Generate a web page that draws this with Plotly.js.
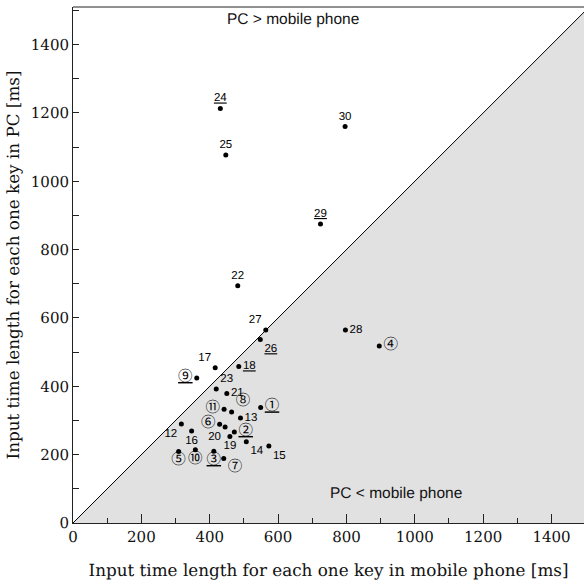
<!DOCTYPE html>
<html>
<head>
<meta charset="utf-8">
<script src="https://cdn.plot.ly/plotly-3.0.1.min.js"></script>
<style>html,body{margin:0;padding:0;background:#fff;}#chart{width:584px;height:585px;}
svg text{text-rendering:geometricPrecision;-webkit-font-smoothing:antialiased;}</style>
</head>
<body>
<div id="chart"></div>
<script>
// Point ids (labels) and their values [ms]
var pointLabels = ["①","②","③","④","⑤","⑥","⑦","⑧","⑨","⑩","⑪",
  "12","13","14","15","16","17","18","19","20","21","22","23","24","25","26","27","28","29","30"];
var mobileMs = [549,472,412,896,309,429,441,464,362,358,442,
  317,490,507,573,347,416,485,459,445,450,482,419,431,447,548,564,797,724,796];
var pcMs = [338,266,210,518,209,289,189,325,424,214,333,
  290,307,238,225,269,454,458,253,281,379,694,392,1213,1077,537,565,565,875,1160];
var underlined = [true,true,true,false,false,false,false,false,true,false,false,
  false,false,false,false,false,false,true,false,false,false,false,false,true,false,true,false,false,true,false];
var labelPos = ["middle right","middle right","bottom center","middle right","bottom center","middle left","bottom right","top right","middle left","bottom center","middle left",
  "bottom left","middle right","bottom right","bottom right","bottom center","top left","middle right","bottom center","bottom left","middle right","top center","top right","top center","top center","bottom right","top left","middle right","top center","top center"];

var xTickVals = [0,200,400,600,800,1000,1200,1400];
var yTickVals = [0,200,400,600,800,1000,1200,1400];
var diagX = [0,1600];
var diagY = [0,1600];
var shadeX = [0,1600,1600,0];
var shadeY = [0,0,1600,0];

var texts = pointLabels.map(function(l,i){
  var circled = !/^[0-9]+$/.test(l);
  var s = circled ? '<span style="font-family:\'Noto Sans CJK JP\';font-size:14.5px">'+l+'</span>' : l;
  return underlined[i] ? '<u>'+s+'</u>' : s;
});

var traces = [
  {x: shadeX, y: shadeY, mode:'lines', fill:'toself', fillcolor:'#e1e1e1', line:{width:0,color:'rgba(0,0,0,0)'}, hoverinfo:'skip', showlegend:false},
  {x: diagX, y: diagY, mode:'lines', line:{color:'#000', width:1}, hoverinfo:'skip', showlegend:false},
  {x: mobileMs, y: pcMs, mode:'markers+text', text: texts, textposition: labelPos,
   textfont:{family:'Liberation Sans, Arial, sans-serif', size:11.5, color:'#000'},
   marker:{color:'#000', size:5}, cliponaxis:false, showlegend:false}
];

var tickFont = {family:'DejaVu Serif, serif', size:15, color:'#111'};
var titleFont = {family:'DejaVu Serif, serif', size:16.8, color:'#111'};
var layout = {
  width:584, height:585,
  margin:{l:73, r:0, t:7, b:62},
  paper_bgcolor:'#fff', plot_bgcolor:'#fff',
  showlegend:false,
  xaxis:{range:[0,1495], tickvals:xTickVals, ticks:'inside', ticklen:9, tickwidth:1, tickcolor:'#222',
    minor:{dtick:100, tick0:0, ticks:'inside', ticklen:5, tickcolor:'#222', showgrid:false},
    showgrid:false, zeroline:false, showline:true, linecolor:'#222', linewidth:1, mirror:false,
    tickfont:tickFont,
    title:{text:'Input time length for each one key in mobile phone [ms]', font:titleFont, standoff:19}},
  yaxis:{range:[0,1510], tickvals:yTickVals, ticks:'inside', ticklen:6, tickwidth:1, tickcolor:'#222',
    minor:{dtick:100, tick0:0, ticks:'inside', ticklen:6, tickcolor:'#222', showgrid:false},
    showgrid:false, zeroline:false, showline:true, linecolor:'#222', linewidth:1,
    tickfont:tickFont,
    title:{text:'Input time length for each one key in PC [ms]', font:titleFont, standoff:6}},
  shapes:[{type:'line', xref:'paper', yref:'paper', x0:0, x1:1, y0:1, y1:1, line:{color:'#222', width:1}}],
  annotations:[
    {x:0.43, y:0.975, xref:'paper', yref:'paper', yanchor:'middle', text:'PC &gt; mobile phone', showarrow:false, font:{family:'Liberation Sans, Arial, sans-serif', size:15.5, color:'#111'}},
    {x:0.765, y:0.057, xref:'paper', yref:'paper', yanchor:'middle', text:'PC &lt; mobile phone', showarrow:false, font:{family:'Liberation Sans, Arial, sans-serif', size:15.5, color:'#111'}}
  ]
};
Plotly.newPlot('chart', traces, layout, {displayModeBar:false, staticPlot:true});
</script>
</body>
</html>
